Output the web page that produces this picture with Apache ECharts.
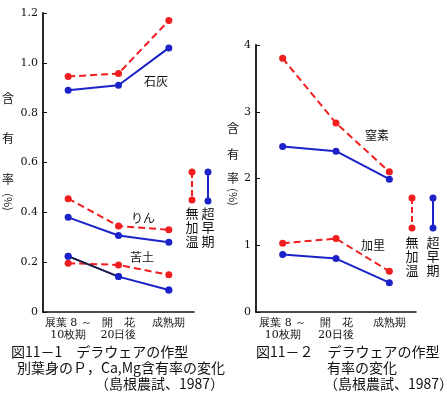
<!DOCTYPE html>
<html>
<head>
<meta charset="utf-8">
<script src="https://cdn.jsdelivr.net/npm/echarts@6/dist/echarts.min.js"></script>
<style>
html,body{margin:0;padding:0;background:#fff;}
#c{width:445px;height:394px;}
</style>
</head>
<body>
<div id="c"></div>
<script>
// ---- data ----
var categories = ['展葉 8 ～\n10枚期', '開　花\n20日後', '成熟期'];
var yTicks1 = [0, 0.2, 0.4, 0.6, 0.8, 1.0, 1.2];
var yTicks2 = [0, 1, 2, 3, 4];
// Fig 11-1 (P, Ca, Mg, %)
var caMukaon = [0.945, 0.957, 1.17];
var caChousouki = [0.89, 0.91, 1.06];
var pMukaon = [0.455, 0.345, 0.33];
var pChousouki = [0.38, 0.307, 0.28];
var mgMukaon = [0.196, 0.189, 0.149];
var mgChousouki = [0.224, 0.142, 0.088];
// Fig 11-2 (N, K, %)
var nMukaon = [3.8, 2.83, 2.10];
var nChousouki = [2.48, 2.41, 1.99];
var kMukaon = [1.03, 1.10, 0.61];
var kChousouki = [0.86, 0.80, 0.44];

var RED = '#f01e1e', BLUE = '#1a22c8';
var FONT = 'DejaVu Serif';
var JFONT = '"Noto Sans CJK JP", sans-serif';

function redS(data, xi) {
  return {type:'line', xAxisIndex:xi, yAxisIndex:xi, data:data, symbol:'circle', symbolSize:7,
    lineStyle:{color:RED, width:2, type:[7,4]}, itemStyle:{color:RED}, silent:true, animation:false};
}
function blueS(data, xi) {
  return {type:'line', xAxisIndex:xi, yAxisIndex:xi, data:data, symbol:'circle', symbolSize:7,
    lineStyle:{color:BLUE, width:2}, itemStyle:{color:BLUE}, silent:true, animation:false};
}
function xAx(gi) {
  return {type:'category', gridIndex:gi, data:categories, boundaryGap:true,
    axisLine:{lineStyle:{color:'#111', width:1.5}},
    axisTick:{inside:true, length:4, alignWithLabel:true, interval:0, lineStyle:{color:'#111'}},
    axisLabel:{color:'#111', fontSize:11, fontFamily:FONT, lineHeight:12, margin:5, interval:0, hideOverlap:false}};
}
function yAx(gi, max, interval, fmt) {
  return {type:'value', gridIndex:gi, min:0, max:max, interval:interval,
    axisLine:{show:true, lineStyle:{color:'#111', width:1.8}},
    axisTick:{show:true, inside:true, length:4, lineStyle:{color:'#111'}},
    splitLine:{show:false},
    axisLabel:{color:'#111', fontSize:11, fontFamily:FONT, margin:5, formatter:fmt}};
}
function txt(x, y, s, size, opt) {
  var o = {type:'text', x:x, y:y, style:{text:s, fill:'#111', font:(size||12)+'px '+JFONT,
    align:'center', verticalAlign:'middle'}};
  if (opt) for (var k in opt) o[k] = opt[k];
  return o;
}
function legendMark(x, y1, y2, color, dashed) {
  return [
    {type:'line', shape:{x1:x, y1:y1, x2:x, y2:y2}, style:{stroke:color, lineWidth:2, lineDash:dashed?[6,3]:null}},
    {type:'circle', shape:{cx:x, cy:y1, r:3.5}, style:{fill:color}},
    {type:'circle', shape:{cx:x, cy:y2, r:3.5}, style:{fill:color}}
  ];
}
function vtext(x, y0, chars, step, size) {
  var a = [];
  for (var i = 0; i < chars.length; i++) a.push(txt(x, y0 + i*step, chars[i], size));
  return a;
}

var graphics = [];
// y-axis names
graphics.push(txt(8, 98, '含', 12), txt(8, 138, '有', 12), txt(8, 179, '率', 12),
  txt(8, 202, '(%)', 11, {rotation:-Math.PI/2}));
graphics.push(txt(233, 128, '含', 12), txt(233, 154, '有', 12), txt(233, 178, '率', 12),
  txt(233, 197, '(%)', 11, {rotation:-Math.PI/2}));
// series labels
graphics.push(txt(156, 81, '石灰', 12), txt(143, 218, 'りん', 12), txt(142, 257, '苦土', 12),
  txt(377, 135, '窒素', 12), txt(373, 245, '加里', 12));
// legends
graphics = graphics.concat(legendMark(192, 172, 200, RED, true), legendMark(208, 172, 201, BLUE, false));
graphics = graphics.concat(vtext(192, 213, ['無','加','温'], 14, 13), vtext(208, 213, ['超','早','期'], 14, 13));
graphics = graphics.concat(legendMark(412, 198, 228, RED, true), legendMark(433, 198, 228, BLUE, false));
graphics = graphics.concat(vtext(412, 242, ['無','加','温'], 14, 13), vtext(433, 242, ['超','早','期'], 14, 13));
// captions
function cap(x, y, s) {
  return {type:'text', x:x, y:y, style:{text:s, fill:'#111', font:'14px '+JFONT, align:'left', verticalAlign:'middle'}};
}
graphics.push(cap(11, 352, '図11－1　デラウェアの作型'), cap(17, 368, '別葉身のＰ，Ca,Mg含有率の変化'),
  cap(95, 384, '（島根農試、1987）'));
graphics.push(cap(256, 352, '図11－２　デラウェアの作型'), cap(327, 368, '有率の変化'),
  cap(324, 384, '（島根農試、1987）'));

// first segment of the Mg (超早期) line appears dark in the original print
var mgDarkSeg = {type:'line', xAxisIndex:0, yAxisIndex:0, z:3,
  data:[mgChousouki[0], mgChousouki[1], null], showSymbol:false, symbol:'none',
  lineStyle:{color:'#222', width:1.6}, silent:true, animation:false};
var mgDots = {type:'scatter', xAxisIndex:0, yAxisIndex:0, z:4, data:mgChousouki,
  symbol:'circle', symbolSize:7, itemStyle:{color:BLUE}, silent:true, animation:false};

var chart = echarts.init(document.getElementById('c'), null, {renderer:'canvas'});
chart.setOption({
  backgroundColor:'#ffffff',
  animation:false,
  grid:[
    {left:43, top:13, width:151, height:299},
    {left:256, top:45, width:160, height:267}
  ],
  xAxis:[xAx(0), xAx(1)],
  yAxis:[
    yAx(0, yTicks1[yTicks1.length-1], 0.2, function(v){return v===0?'0':v.toFixed(1);}),
    yAx(1, yTicks2[yTicks2.length-1], 1, function(v){return String(v);})
  ],
  series:[
    redS(caMukaon,0), blueS(caChousouki,0),
    redS(pMukaon,0), blueS(pChousouki,0),
    redS(mgMukaon,0), blueS(mgChousouki,0),
    mgDarkSeg, mgDots,
    redS(nMukaon,1), blueS(nChousouki,1),
    redS(kMukaon,1), blueS(kChousouki,1)
  ],
  graphic:graphics
});
</script>
</body>
</html>
